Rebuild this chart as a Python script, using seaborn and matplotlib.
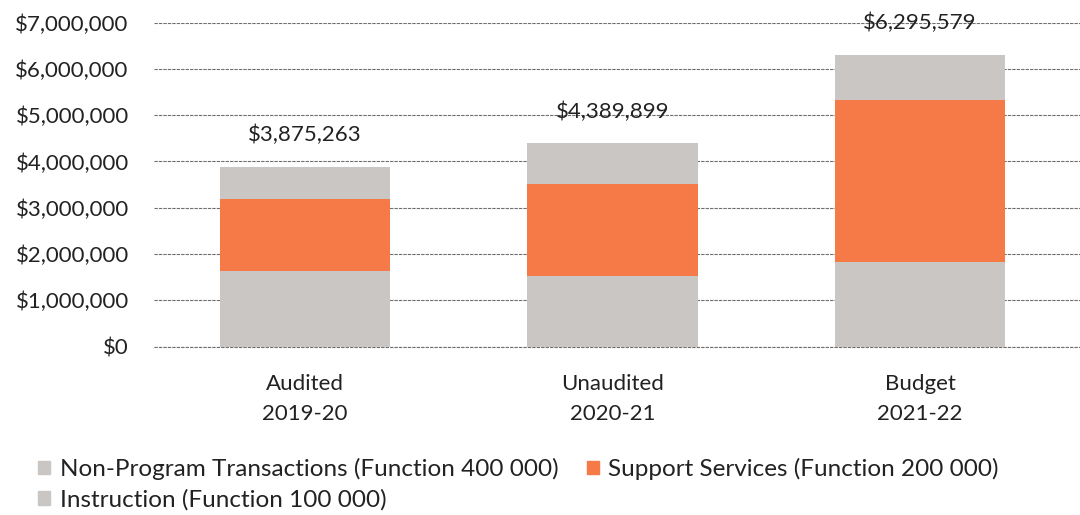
import numpy as np
import pandas as pd
import seaborn as sns
import matplotlib.pyplot as plt
from matplotlib.patches import Patch
from matplotlib.ticker import FuncFormatter

# values
periods = ["Audited\n2019-20", "Unaudited\n2020-21", "Budget\n2021-22"]
instruction = [1640000, 1527000, 1820000]
support = [1540000, 1995000, 3510000]
totals = [3875263, 4389899, 6295579]
series_names = ["Non-Program Transactions (Function 400 000)",
                "Support Services (Function 200 000)",
                "Instruction (Function 100 000)"]

gray = "#c9c6c4"
orange = "#f57a48"

sns.set_style("white")
plt.rcParams["font.family"] = ["Lato", "DejaVu Sans"]

df = pd.DataFrame({"period": periods,
                   "instruction": instruction,
                   "support": support,
                   "total": totals})
df["inst_sup"] = df["instruction"] + df["support"]

fig = plt.figure(figsize=(10.8, 5.15), dpi=100)
ax = fig.add_axes([0.143, 0.327, 0.857, 0.629])

# layered bars: total, then instruction+support, then instruction
bw = 0.555
sns.barplot(data=df, x="period", y="total", color=gray, saturation=1,
            width=bw, errorbar=None, ax=ax, zorder=2, linewidth=0)
sns.barplot(data=df, x="period", y="inst_sup", color=orange, saturation=1,
            width=bw, errorbar=None, ax=ax, zorder=3, linewidth=0)
sns.barplot(data=df, x="period", y="instruction", color=gray, saturation=1,
            width=bw, errorbar=None, ax=ax, zorder=4, linewidth=0)

for i, t in enumerate(df["total"]):
    ax.annotate(f"${t:,.0f}", (i, t), xytext=(0, 23), textcoords="offset points",
                ha="center", va="center", fontsize=16, color="#222222", zorder=5)

ax.set_ylim(0, 7000000)
ax.set_xlim(-0.49, 2.52)
ax.set_yticks(np.arange(0, 7000001, 1000000))
ax.yaxis.set_major_formatter(FuncFormatter(lambda v, p: f"${v:,.0f}"))
ax.grid(axis="y", color="#6e6e6e", linewidth=0.8, linestyle=(0, (3, 1)))
ax.axhline(0, color="#6e6e6e", linewidth=0.8, linestyle=(0, (3, 1)), clip_on=False, zorder=1)
ax.set_axisbelow(True)
for s in ax.spines.values():
    s.set_visible(False)
ax.tick_params(axis="y", length=0, pad=18.5, labelsize=16, labelcolor="#222222")
ax.tick_params(axis="x", length=0, pad=19.5, labelsize=16, labelcolor="#222222")
for lab in ax.get_xticklabels():
    lab.set_linespacing(1.65)
ax.set_xlabel("")
ax.set_ylabel("")

handles = [Patch(color=gray, label=series_names[0]),
           Patch(color=gray, label=series_names[2]),
           Patch(color=orange, label=series_names[1])]
fig.legend(handles=handles, loc="upper left", bbox_to_anchor=(0.015, 0.153),
           ncol=2, frameon=False, fontsize=17.5, handlelength=0.5, handleheight=0.5,
           handletextpad=0.4, columnspacing=1.15, labelspacing=0.38,
           labelcolor="#222222")

fig.savefig("out.png", dpi=100)
